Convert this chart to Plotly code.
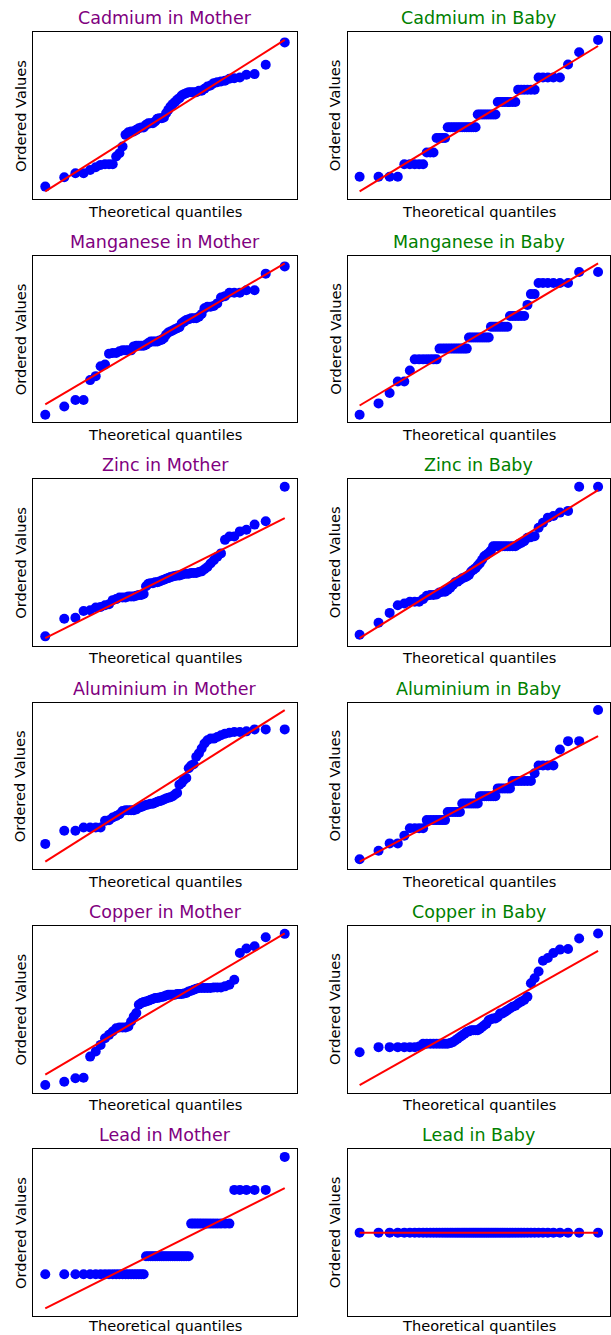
import plotly.graph_objects as go
from statistics import NormalDist
import numpy as np

# ---------------- data (ordered values, arbitrary units) ----------------
titles = ["Cadmium in Mother", "Cadmium in Baby",
          "Manganese in Mother", "Manganese in Baby",
          "Zinc in Mother", "Zinc in Baby",
          "Aluminium in Mother", "Aluminium in Baby",
          "Copper in Mother", "Copper in Baby",
          "Lead in Mother", "Lead in Baby"]

cadmium_mother = [45, 73, 85, 85, 95, 103, 110, 112, 112, 112,
                  135, 145, 165, 200, 208, 210, 210, 215, 220, 222,
                  222, 230, 235, 235, 235, 240, 248, 250, 250, 252,
                  265, 275, 285, 292, 298, 305, 310, 318, 322, 325,
                  328, 328, 328, 328, 332, 332, 338, 345, 348, 355,
                  358, 360, 362, 368, 370, 372, 380, 382, 410, 477]
cadmium_baby = ([73] * 4 + [110] * 5 + [145] * 3 + [188] * 4 + [220] * 13 +
                [258] * 9 + [295] * 8 + [332] * 6 + [368] * 5 + [407, 443, 480])
manganese_mother = [23, 48, 68, 68, 128, 140, 170, 175, 208, 210, 210, 215,
                    218, 218, 218, 218, 230, 232, 232, 232, 232, 235, 240,
                    245, 245, 245, 245, 248, 250, 255, 265, 272, 275, 278,
                    282, 285, 288, 300, 305, 310, 312, 315, 315, 315, 320,
                    328, 345, 350, 350, 352, 360, 378, 382, 392, 392, 392,
                    400, 400, 450, 472]
manganese_baby = ([23, 57, 88, 122, 122, 155] + [188] * 7 + [220] * 12 +
                  [253] * 10 + [285] * 8 + [317] * 6 + [350] + [382] * 2 +
                  [415] * 6 + [448] * 2)
zinc_mother = [30, 82, 85, 105, 107, 115, 117, 122, 125, 137, 140,
               145, 145, 145, 148, 148, 148, 150, 152, 152, 155, 178, 185,
               187, 187, 190, 190, 192, 195, 197, 200, 202, 205, 207, 208,
               210, 210, 212, 215, 215, 215, 217, 217, 217, 220, 222, 228,
               235, 245, 255, 265, 275, 315, 325, 325, 340, 345, 360, 370, 472]
zinc_baby = [32, 68, 97, 120, 125, 130, 130, 130, 138, 148, 150, 150, 152,
             158, 160, 160, 165, 172, 180, 188, 190, 195, 200, 202, 205, 210,
             220, 225, 230, 238, 245, 255, 265, 270, 275, 282] + [295] * 10 + \
            [300, 305, 310, 320, 322, 325, 350, 365, 380, 385, 395, 400, 472, 472]
aluminium_mother = [70, 110, 110, 120, 120, 120, 120, 140, 142, 150, 155, 160,
                    170, 172, 172, 172, 172, 175, 180, 182, 185, 188, 190, 192,
                    192, 195, 198, 200, 202, 205, 208, 210, 212, 215, 220, 225,
                    250, 255, 265, 270, 300, 308, 312, 335, 345, 360, 375, 385,
                    390, 390, 395, 400, 405, 408, 410, 410, 412, 418, 418, 418]
aluminium_baby = ([25, 50, 72, 72, 95] + [117] * 4 + [141] * 7 + [165] * 6 +
                  [190] * 8 + [212] * 8 + [235] * 6 + [257] * 7 + [280] +
                  [303] * 4 + [350, 375, 375, 467])
copper_mother = [10, 20, 30, 32, 95, 110, 130, 150, 160, 170, 180, 182, 182,
                 182, 185, 200, 215, 225, 250, 255, 258, 260, 262, 265, 267,
                 270, 270, 272, 273, 275, 278, 280, 280, 280, 280, 282, 282,
                 282, 284, 285, 290, 292, 295, 298, 300, 300, 300, 300, 300,
                 302, 302, 302, 305, 310, 325, 405, 418, 425, 452, 462]
copper_baby = ([110] + [125] * 6 + [127] + [135] * 9 +
               [137, 140, 145, 150, 155, 160, 165, 170, 172] + [175] * 4 +
               [180, 185, 190, 195, 205, 208, 210, 210, 215, 225, 225, 230,
                235, 240, 245, 248, 255, 260, 265, 275, 315, 330, 350, 382,
                390, 405, 415, 417, 448, 463])
lead_mother = [110] * 21 + [163] * 20 + [260] * 13 + [360] * 5 + [458]
lead_baby = [100] * 60

series = [cadmium_mother, cadmium_baby, manganese_mother, manganese_baby,
          zinc_mother, zinc_baby, aluminium_mother, aluminium_baby,
          copper_mother, copper_baby, lead_mother, lead_baby]

x_label = "Theoretical quantiles"
y_label = "Ordered Values"
mother_color = "#800080"
baby_color = "#008000"

# ---------------- helpers ----------------
def theoretical_quantiles(n):
    """Filliben order-statistic medians mapped through the normal ppf (as in a probability plot)."""
    m = [(i - 0.3175) / (n + 0.365) for i in range(1, n + 1)]
    m[-1] = 0.5 ** (1.0 / n)
    m[0] = 1.0 - m[-1]
    nd = NormalDist()
    return [nd.inv_cdf(p) for p in m]


def least_squares(xs, ys):
    xs = np.asarray(xs, dtype=float)
    ys = np.asarray(ys, dtype=float)
    xm, ym = xs.mean(), ys.mean()
    dy = ys - ym
    if np.all(dy == 0):
        return 0.0, float(ym)
    slope = float(np.sum((xs - xm) * dy) / np.sum((xs - xm) ** 2))
    return slope, float(ym - slope * xm)


def padded(lo, hi, frac=0.05):
    span = hi - lo
    if span < 1e-9 * max(1.0, abs(lo)):
        half = abs(lo) * 0.05 if lo != 0 else 1.0
        return [lo - half, hi + half]
    return [lo - frac * span, hi + frac * span]


# ---------------- layout geometry (pixels) ----------------
W, H = 611, 1335
col_left = [33.3, 347.7]
col_right = [296.7, 610.0]
row_top0 = 32.3
row_step = 223.4
frame_h = 166.7

fig = go.Figure()
annotations = []
layout_axes = {}

for k, values in enumerate(series):
    r, c = divmod(k, 2)
    vals = sorted(values)
    q = theoretical_quantiles(len(vals))
    slope, intercept = least_squares(q, vals)
    line_x = [min(q), max(q)]
    line_y = [slope * v + intercept for v in line_x]

    ax = "" if k == 0 else str(k + 1)
    xa, ya = "x" + ax, "y" + ax

    fig.add_trace(go.Scatter(x=q, y=vals, mode="markers", xaxis=xa, yaxis=ya,
                             marker=dict(color="#0000FF", size=10, line=dict(width=0)),
                             hoverinfo="skip"))
    fig.add_trace(go.Scatter(x=line_x, y=line_y, mode="lines", xaxis=xa, yaxis=ya,
                             line=dict(color="#FF0000", width=2), hoverinfo="skip"))

    left, right = col_left[c], col_right[c]
    top = row_top0 + r * row_step
    bottom = top + frame_h

    y_lo = min(min(vals), min(line_y))
    y_hi = max(max(vals), max(line_y))

    axis_common = dict(showline=True, mirror=True, linecolor="black", linewidth=1,
                       showticklabels=False, ticks="", showgrid=False, zeroline=False)
    layout_axes["xaxis" + ax] = dict(domain=[left / W, right / W], anchor=ya,
                                     range=padded(min(q), max(q)), **axis_common)
    layout_axes["yaxis" + ax] = dict(domain=[1 - bottom / H, 1 - top / H], anchor=xa,
                                     range=padded(y_lo, y_hi), **axis_common)

    cx = (left + right) / 2
    cy = (top + bottom) / 2
    annotations.append(dict(text=titles[k], x=cx / W, y=1 - (top - 14) / H,
                            xref="paper", yref="paper", showarrow=False,
                            xanchor="center", yanchor="middle",
                            font=dict(size=17.5, color=mother_color if c == 0 else baby_color,
                                      family="DejaVu Sans")))
    xl_y = min(bottom + 12, H - 10)
    annotations.append(dict(text=x_label, x=cx / W, y=1 - xl_y / H,
                            xref="paper", yref="paper", showarrow=False,
                            xanchor="center", yanchor="middle", borderpad=0,
                            font=dict(size=14.6, color="black", family="DejaVu Sans")))
    annotations.append(dict(text=y_label, x=(left - 13) / W, y=1 - cy / H,
                            xref="paper", yref="paper", showarrow=False,
                            xanchor="center", yanchor="middle", textangle=-90,
                            font=dict(size=14.6, color="black", family="DejaVu Sans")))

fig.update_layout(width=W, height=H, margin=dict(l=0, r=0, t=0, b=0),
                  paper_bgcolor="white", plot_bgcolor="white", showlegend=False,
                  annotations=annotations, font=dict(family="DejaVu Sans"),
                  **layout_axes)

fig.write_html("out.html", config={"displayModeBar": False})
